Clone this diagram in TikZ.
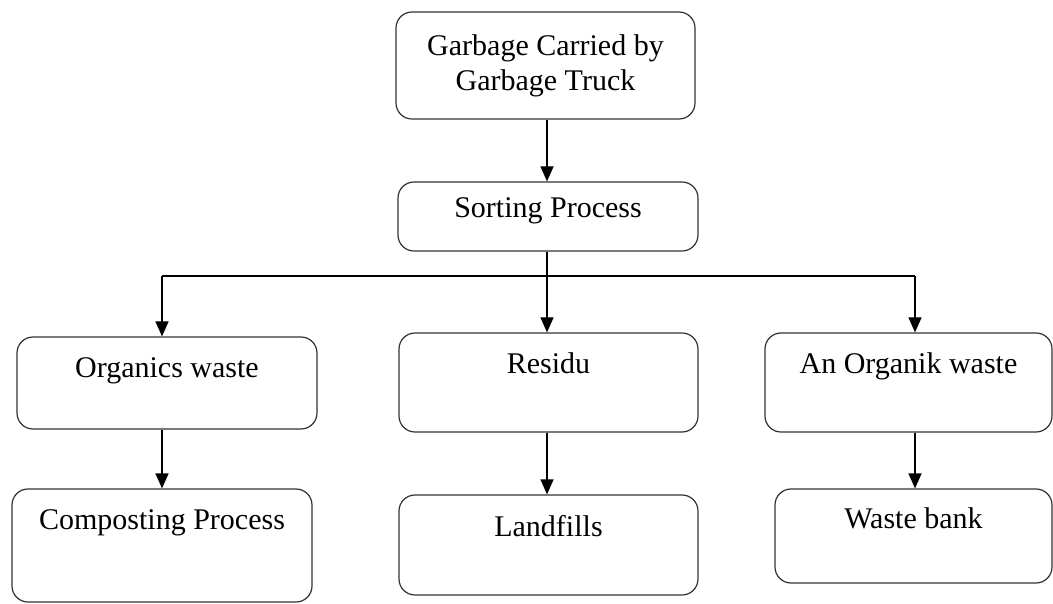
\documentclass[tikz,border=0pt]{standalone}
\usepackage{fontspec}
\setmainfont{Liberation Serif}
\usetikzlibrary{arrows.meta}
\begin{document}
\begin{tikzpicture}[x=1pt,y=-1pt,
  box/.style={draw=black!80, line width=1.2pt, rounded corners=16pt, inner sep=0pt,
    font=\fontsize{30}{35}\selectfont},
  arr/.style={line width=1.2pt, -{Triangle[length=15pt,width=13pt]}},
  conn/.style={line width=1.2pt}]
\useasboundingbox (0,0) rectangle (1053,604);
\node[box, minimum width=299pt, minimum height=107pt, align=center] (b1) at (545.5,65.5) {Garbage Carried by\\Garbage Truck};
\node[box, minimum width=300pt, text height=36pt, text depth=33pt] (b2) at (548,216.5) {Sorting Process};
\node[box, minimum width=300pt, text height=40pt, text depth=52pt] (b3) at (167,383) {Organics waste};
\node[box, minimum width=299pt, text height=40pt, text depth=59pt] (b4) at (548.5,382.5) {Residu};
\node[box, minimum width=287pt, text height=40pt, text depth=59pt] (b5) at (908.5,382.5) {An Organik waste};
\node[box, minimum width=300pt, text height=40pt, text depth=73pt] (b6) at (162,545.5) {Composting Process};
\node[box, minimum width=299pt, text height=41pt, text depth=59pt] (b7) at (548.5,545) {Landfills};
\node[box, minimum width=277pt, text height=39pt, text depth=55pt] (b8) at (913.5,536) {Waste bank};
\coordinate (jl) at (162,276);
\coordinate (jm) at (547,276);
\coordinate (jr) at (915,276);
\draw[arr] (b1.south -| jm) -- (b2.north -| jm);
\draw[arr] (b2.south -| jm) -- (b4.north -| jm);
\draw[conn] (jl) -- (jr);
\draw[arr] (jl) -- (b3.north -| jl);
\draw[arr] (jr) -- (b5.north -| jr);
\draw[arr] (b3.south -| jl) -- (b6.north -| jl);
\draw[arr] (b4.south -| jm) -- (b7.north -| jm);
\draw[arr] (b5.south -| jr) -- (b8.north -| jr);
\end{tikzpicture}
\end{document}
